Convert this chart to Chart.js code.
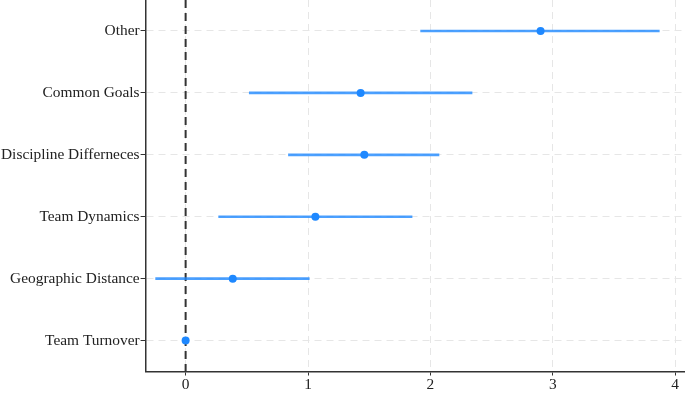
<!DOCTYPE html>
<html>
<head>
<meta charset="utf-8">
<script src="https://cdn.jsdelivr.net/npm/chart.js@4"></script>
<style>
  body { margin: 0; background: #fff; }
  #wrap { width: 685px; height: 394px; position: relative; }
</style>
</head>
<body>
<div id="wrap"><canvas id="myChart"></canvas></div>
<script>
// categories top to bottom
const categories = ['Other', 'Common Goals', 'Discipline Differneces', 'Team Dynamics', 'Geographic Distance', 'Team Turnover'];
// point estimates and confidence bounds
const estimates = [2.90, 1.43, 1.46, 1.06, 0.385, 0];
const lowerCI = [1.92, 0.52, 0.84, 0.27, -0.245, 0];
const upperCI = [3.87, 2.34, 2.07, 1.85, 1.01, 0];
const xTicks = [0, 1, 2, 3, 4];

const blue = '#1e88ff';
const lineBlue = 'rgba(30,136,255,0.8)';

// dashed reference line at zero
const zeroLine = {
    id: 'zeroLine',
    beforeDatasetsDraw(chart) {
        const x = chart.scales.x.getPixelForValue(0);
        const area = chart.chartArea;
        const ctx = chart.ctx;
        ctx.save();
        ctx.strokeStyle = '#333';
        ctx.lineWidth = 2;
        ctx.setLineDash([8, 5]);
        ctx.beginPath();
        ctx.moveTo(x, area.top);
        ctx.lineTo(x, area.bottom + 4);
        ctx.stroke();
        ctx.restore();
    }
};

const font = { family: '"Liberation Serif", "Times New Roman", serif', size: 15.4 };

new Chart(document.getElementById('myChart'), {
    type: 'bar',
    data: {
        labels: categories,
        datasets: [
            {
                type: 'scatter',
                data: categories.map((c, i) => ({ x: estimates[i], y: c })),
                backgroundColor: blue,
                borderColor: blue,
                pointRadius: 4,
                borderWidth: 0,
                order: 0
            },
            {
                data: categories.map((c, i) => [lowerCI[i], upperCI[i]]),
                backgroundColor: lineBlue,
                borderWidth: 0,
                barThickness: 2,
                order: 1
            }
        ]
    },
    options: {
        indexAxis: 'y',
        responsive: true,
        maintainAspectRatio: false,
        animation: false,
        layout: { padding: 0, autoPadding: false },
        plugins: { legend: { display: false }, tooltip: { enabled: false } },
        scales: {
            x: {
                type: 'linear',
                min: -0.327,
                max: 4.08,
                afterBuildTicks: scale => { scale.ticks = xTicks.map(v => ({ value: v })); },
                afterFit: scale => { scale.paddingLeft = 0; scale.paddingRight = 0; },
                ticks: { color: '#222', font: font, padding: 0, maxRotation: 0 },
                grid: { color: '#e6e6e6', tickColor: '#333', tickLength: 4, lineWidth: 1 },
                border: { color: '#333', width: 1.5, dash: [7, 5] }
            },
            y: {
                type: 'category',
                offset: true,
                afterFit: scale => { scale.paddingTop = 0; scale.paddingBottom = 0; },
                ticks: { color: '#222', font: font, padding: 1 },
                grid: { offset: false, color: '#e6e6e6', tickColor: '#333', tickLength: 5, lineWidth: 1 },
                border: { color: '#333', width: 1.5, dash: [7, 5] }
            }
        }
    },
    plugins: [zeroLine]
});
</script>
</body>
</html>
